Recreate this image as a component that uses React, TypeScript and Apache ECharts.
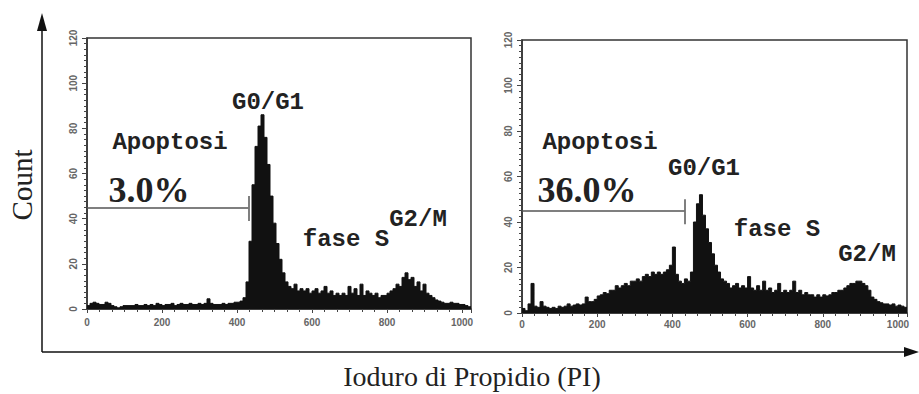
import React, { useEffect, useRef } from "react";
import * as echarts from "echarts";

// Histogram bins: width 8 channels, channels 0..1024
const BIN_WIDTH = 8;
const CHANNEL_MAX = 1024;

// Control sample (left panel) counts per bin
const controlCounts = [
  1.5, 2.5, 3, 2.5, 2, 2, 3, 2.5, 1.5, 1,
  0.5, 1, 1.5, 1.5, 1.5, 1.5, 2, 1.5, 1.5, 2,
  1.5, 2, 1.5, 2.5, 2, 1.5, 2, 2, 2.5, 1.5,
  2, 2.5, 2, 2, 2.5, 2, 2, 2.5, 2, 2.5,
  4.5, 2.5, 2, 2, 2, 2.5, 2, 2.5, 2.5, 3,
  3, 3.5, 5, 12, 30, 55, 72, 81, 86, 76,
  64, 50, 38, 29, 22, 16, 12, 10, 9, 11,
  8, 9, 8, 9, 7, 8, 9, 7, 8, 10,
  7, 8, 6, 7, 6, 7, 6, 10, 7, 9,
  6, 11, 6, 8, 7, 6, 7, 5, 6, 6,
  7, 8, 9, 11, 10, 14, 16, 13, 14, 10,
  12, 8, 11, 7, 6, 5, 4, 3.5, 3, 2.5,
  2.5, 3, 2.5, 2.5, 2, 2, 1.5, 1,
];

// Treated sample (right panel) counts per bin
const treatedCounts = [
  2, 1, 4, 13, 3, 2.5, 5, 3, 2.5, 2,
  2.5, 2, 3, 2.5, 3, 4, 3, 3.5, 4, 3.5,
  4, 7, 5, 5, 6, 7.5, 8, 9, 8.5, 10,
  10, 12, 11, 12, 13, 12, 14, 14, 15, 14,
  16, 17, 16, 18, 17, 18, 17, 18, 19, 21,
  29, 17, 14, 13, 15, 14, 18, 40, 48, 52,
  43, 37, 31, 26, 21, 18, 15, 14, 13, 11,
  12, 13, 11, 12, 11, 16, 11, 10, 12, 10,
  14, 10, 11, 9, 10, 13, 9, 10, 9, 10,
  14, 9, 10, 8, 9, 8, 8, 7, 8, 7,
  8, 7.5, 8, 9, 9, 10, 10, 11, 12, 13,
  13, 14, 14, 13, 12, 10, 7, 6, 5, 4.5,
  4, 4, 3.5, 4, 3, 3.5, 3, 2.5,
];

// Apoptosis gate (channel range) and its drawn height (count)
const controlGate = [0, 430];
const treatedGate = [0, 432];
const gateLevel = 45;
const gateTick = [39, 50];

const apoptosisPct = ["3.0%", "36.0%"];
const yTicks = { min: 0, max: 120, interval: 20 };
const xTicks = { min: 0, interval: 200 };

function toSteps(counts: number[]) {
  const pts = counts.map((v, i) => [i * BIN_WIDTH, v]);
  pts.push([CHANNEL_MAX, counts[counts.length - 1]]);
  return pts;
}

export default function App() {
  const ref = useRef<HTMLDivElement>(null);
  useEffect(() => {
    if (!ref.current) return;
    const chart = echarts.init(ref.current, undefined, { renderer: "svg" });
    const axisColor = "#333";
    const grids = [
      { left: 87, top: 38, width: 384, height: 271 },
      { left: 522, top: 40, width: 385, height: 273 },
    ];
    const mono = "Liberation Mono";
    const serif = "Liberation Serif";
    const monoText = (text: string, x: number, y: number) => ({
      type: "text",
      x,
      y,
      style: {
        text,
        fontFamily: mono,
        fontWeight: "bold",
        fontSize: 24,
        fill: "#222",
        align: "center",
        verticalAlign: "middle",
      },
    });
    const pctText = (text: string, x: number, y: number) => ({
      type: "text",
      x,
      y,
      style: {
        text,
        fontFamily: serif,
        fontWeight: "bold",
        fontSize: 36,
        fill: "#222",
        align: "center",
        verticalAlign: "middle",
      },
    });
    const gateLines = (gate: number[]) => ({
      silent: true,
      symbol: ["none", "none"],
      label: { show: false },
      lineStyle: { color: "#555", width: 1.5, type: "solid" },
      data: [
        [{ coord: [gate[0], gateLevel] }, { coord: [gate[1], gateLevel] }],
        [{ coord: [gate[1], gateTick[0]] }, { coord: [gate[1], gateTick[1]] }],
      ],
    });
    const option: any = {
      animation: false,
      backgroundColor: "#fff",
      grid: grids.map((g) => ({
        ...g,
        show: true,
        borderColor: axisColor,
        borderWidth: 1.5,
        backgroundColor: "transparent",
      })),
      xAxis: [0, 1].map((i) => ({
        type: "value",
        gridIndex: i,
        min: xTicks.min,
        max: CHANNEL_MAX,
        interval: xTicks.interval,
        axisLine: { show: true, onZero: false, lineStyle: { color: axisColor, width: 1.5 } },
        axisTick: { show: true, length: 4, lineStyle: { color: "#444" } },
        minorTick: { show: true, splitNumber: 6, length: 3, lineStyle: { color: "#444" } },
        splitLine: { show: false },
        axisLabel: {
          fontSize: 10,
          fontFamily: "Liberation Sans",
          fontWeight: "bold",
          color: "#666",
          margin: i === 0 ? 8 : 6,
          showMaxLabel: false,
          formatter: (v: number) => (v % 200 === 0 ? String(v) : ""),
        },
      })),
      yAxis: [0, 1].map((i) => ({
        type: "value",
        gridIndex: i,
        min: yTicks.min,
        max: yTicks.max,
        interval: yTicks.interval,
        axisLine: { show: true, lineStyle: { color: axisColor, width: 1.5 } },
        axisTick: { show: true, length: 5, lineStyle: { color: "#444" } },
        minorTick: { show: true, splitNumber: 8, length: 3, lineStyle: { color: "#444" } },
        splitLine: { show: false },
        axisLabel: {
          rotate: 90,
          fontSize: 10,
          fontFamily: "Liberation Sans",
          fontWeight: "bold",
          color: "#666",
          margin: 9,
        },
      })),
      series: [
        {
          type: "line",
          xAxisIndex: 0,
          yAxisIndex: 0,
          step: "end",
          symbol: "none",
          data: toSteps(controlCounts),
          lineStyle: { color: "#111", width: 1 },
          areaStyle: { color: "#111", opacity: 1 },
          markLine: gateLines(controlGate),
        },
        {
          type: "line",
          xAxisIndex: 1,
          yAxisIndex: 1,
          step: "end",
          symbol: "none",
          data: toSteps(treatedCounts),
          lineStyle: { color: "#111", width: 1 },
          areaStyle: { color: "#111", opacity: 1 },
          markLine: gateLines(treatedGate),
        },
      ],
      graphic: [
        { type: "line", shape: { x1: 42, y1: 352, x2: 42, y2: 28 }, style: { stroke: "#111", lineWidth: 1.5 } },
        { type: "polygon", shape: { points: [[42, 13], [37, 31], [47, 31]] }, style: { fill: "#111" } },
        { type: "line", shape: { x1: 42, y1: 352, x2: 906, y2: 352 }, style: { stroke: "#111", lineWidth: 1.5 } },
        { type: "polygon", shape: { points: [[919, 352], [904, 347], [904, 357]] }, style: { fill: "#111" } },
        {
          type: "text",
          x: 22,
          y: 185,
          rotation: Math.PI / 2,
          style: { text: "Count", fontFamily: serif, fontSize: 29, fill: "#222", align: "center", verticalAlign: "middle" },
        },
        {
          type: "text",
          x: 472,
          y: 376,
          style: {
            text: "Ioduro di Propidio (PI)",
            fontFamily: serif,
            fontSize: 28,
            fill: "#222",
            align: "center",
            verticalAlign: "middle",
          },
        },
        monoText("Apoptosi", 170, 142),
        pctText(apoptosisPct[0], 149, 190),
        monoText("G0/G1", 268, 102),
        monoText("fase S", 346, 239),
        monoText("G2/M", 418, 219),
        monoText("Apoptosi", 600, 142),
        pctText(apoptosisPct[1], 587, 190),
        monoText("G0/G1", 704, 168),
        monoText("fase S", 777, 229),
        monoText("G2/M", 867, 254),
      ],
    };
    chart.setOption(option);
    return () => chart.dispose();
  }, []);
  return (
    <div
      ref={ref}
      style={{ position: "absolute", left: 0, top: 0, width: 919, height: 394, background: "#fff" }}
    />
  );
}
